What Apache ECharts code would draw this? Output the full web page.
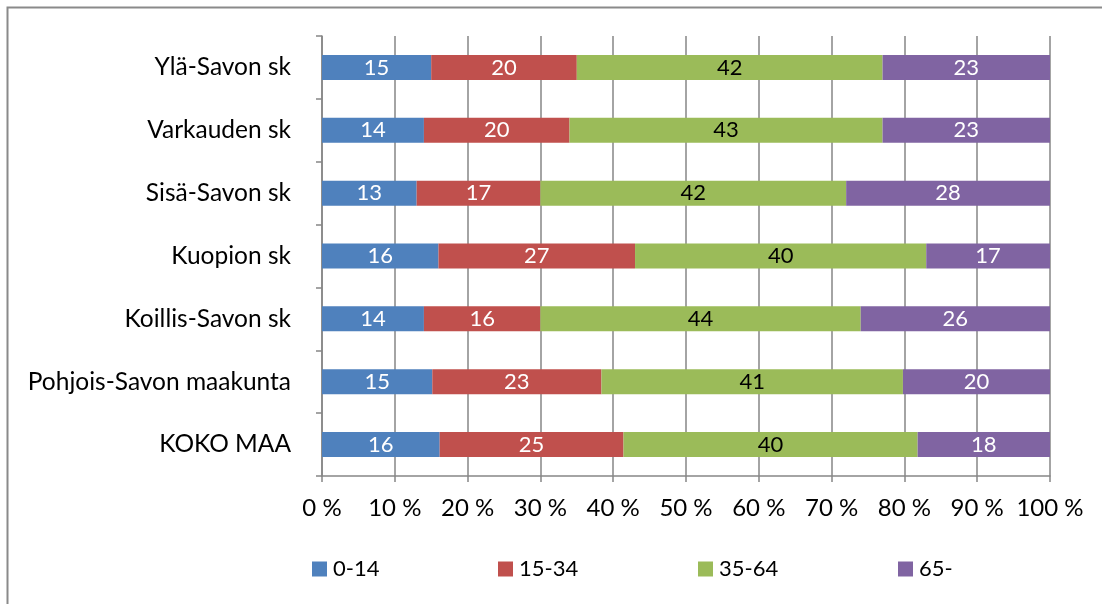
<!DOCTYPE html>
<html>
<head>
<meta charset="utf-8">
<script src="https://cdn.jsdelivr.net/npm/echarts@6/dist/echarts.min.js"></script>
<style>
  html, body { margin: 0; padding: 0; background: #fff; }
  #chart { width: 1102px; height: 604px; }
</style>
</head>
<body>
<div id="chart"></div>
<script>
// Age structure by sub-region (%), top to bottom
const regions = ['Ylä-Savon sk', 'Varkauden sk', 'Sisä-Savon sk', 'Kuopion sk',
                 'Koillis-Savon sk', 'Pohjois-Savon maakunta', 'KOKO MAA'];
const ageGroups = ['0-14', '15-34', '35-64', '65-'];
const age0_14  = [15, 14, 13, 16, 14, 15, 16];
const age15_34 = [20, 20, 17, 27, 16, 23, 25];
const age35_64 = [42, 43, 42, 40, 44, 41, 40];
const age65    = [23, 23, 28, 17, 26, 20, 18];
const xTicks = ['0 %', '10 %', '20 %', '30 %', '40 %', '50 %', '60 %', '70 %', '80 %', '90 %', '100 %'];

const colors = ['#4F81BD', '#C0504D', '#9BBB59', '#8064A2'];
const labelColors = ['#ffffff', '#ffffff', '#000000', '#ffffff'];
const FONT = 'Lato, "Noto Sans", sans-serif';

const groups = [age0_14, age15_34, age35_64, age65];
// each row is scaled to 100 % so the bars fill the full width
const rowTotals = regions.map((_, i) => groups.reduce((s, g) => s + g[i], 0));

const series = groups.map((g, k) => ({
  name: ageGroups[k],
  type: 'bar',
  stack: 'share',
  barWidth: 25,
  itemStyle: { color: colors[k] },
  data: g.map((v, i) => ({ value: v / rowTotals[i] * 100, raw: v })),
  label: {
    show: true,
    position: 'inside',
    color: labelColors[k],
    fontFamily: FONT,
    fontSize: 22,
    formatter: p => String(p.data.raw)
  }
}));

const legendLeft = [307, 493, 693, 893];
const legends = ageGroups.map((name, k) => ({
  data: [name],
  left: legendLeft[k],
  top: 553,
  itemWidth: 15,
  itemHeight: 15,
  itemGap: 4,
  icon: 'rect',
  selectedMode: false,
  textStyle: { fontFamily: FONT, fontSize: 22, color: '#000', padding: [0, 0, 0, 1] }
}));

const chart = echarts.init(document.getElementById('chart'), null, { renderer: 'canvas' });
chart.setOption({
  animation: false,
  color: colors,
  graphic: [{
    type: 'rect',
    shape: { x: 7.5, y: 7.5, width: 1200, height: 700 },
    style: { fill: 'none', stroke: '#8a8a8a', lineWidth: 2 },
    silent: true
  }],
  legend: legends,
  grid: { left: 322, right: 52, top: 36, bottom: 128, containLabel: false },
  xAxis: {
    type: 'value',
    min: 0, max: 100, interval: 10,
    axisLine: { show: true, lineStyle: { color: '#868686', width: 1.5 } },
    axisTick: { show: true, length: 6, lineStyle: { color: '#868686', width: 1.5 } },
    splitLine: { show: true, lineStyle: { color: '#868686', width: 1.5 } },
    axisLabel: {
      margin: 20,
      fontFamily: FONT, fontSize: 24, color: '#000',
      formatter: v => xTicks[Math.round(v / 10)]
    }
  },
  yAxis: {
    type: 'category',
    data: regions,
    inverse: true,
    axisLine: { show: true, lineStyle: { color: '#868686', width: 1.5 } },
    axisTick: { show: true, length: 6, lineStyle: { color: '#868686', width: 1.5 } },
    axisLabel: { margin: 31, fontFamily: FONT, fontSize: 24.5, color: '#000' }
  },
  series: series
});
</script>
</body>
</html>
